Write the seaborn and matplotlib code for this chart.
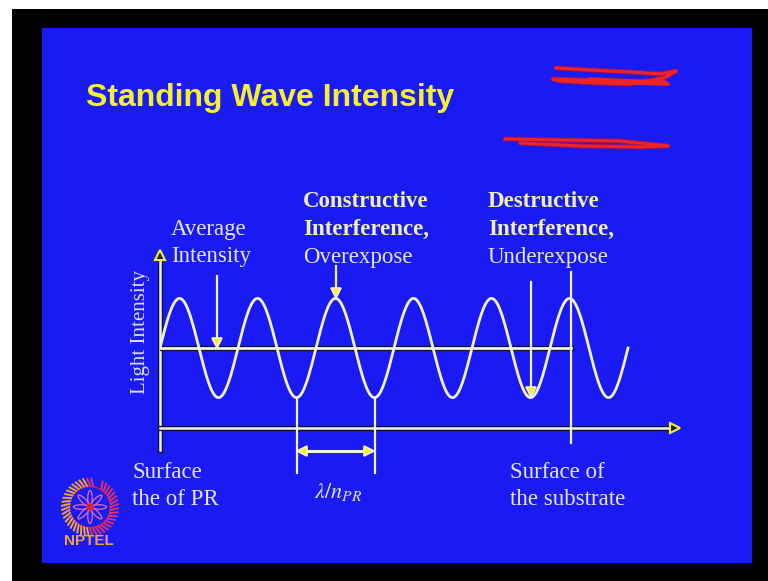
import numpy as np
import matplotlib
matplotlib.use("Agg")
import matplotlib.pyplot as plt
import matplotlib.patheffects as pe
from matplotlib.patches import Rectangle, Circle, Ellipse
import seaborn as sns

# ---------------- data ----------------
n_periods = 6.0            # wave spans six full periods (x in units of lambda/n_PR)
mean_intensity = 1.0       # average intensity level
wave_amplitude = 0.62      # peak-to-mean amplitude
peak_positions = [0.25, 1.25, 2.25, 3.25, 4.25, 5.25]
trough_positions = [0.75, 1.75, 2.75, 3.75, 4.75, 5.75]
substrate_x = 5.27         # surface of the substrate
lambda_marks = [1.75, 2.75]  # troughs bracketing one lambda/n_PR
avg_arrow_x = 0.73
over_arrow_x = 2.25
under_arrow_x = 4.75

title = "Standing Wave Intensity"
y_label = "Light Intensity"
lab_average = ["Average", "Intensity"]
lab_construct = ["Constructive", "Interference,", "Overexpose"]
lab_destruct = ["Destructive", "Interference,", "Underexpose"]
lab_surface_pr = ["Surface", "the of PR"]
lab_substrate = ["Surface of", "the substrate"]
lab_lambda = r"$\lambda/n_{PR}$"

# red pen scribbles (pixel coords of the slide)
scribble1_x = [556, 590, 630, 660, 676, 664, 630, 595, 560, 553, 585, 625, 655, 668]
scribble1_y = [68, 70, 72, 74, 71, 78, 84, 83, 81, 79, 80, 81, 82, 84]
scribble1b_x = [590, 630, 665]
scribble1b_y = [80, 82, 83]
scribble2_x = [505, 560, 620, 668, 640, 580, 520]
scribble2_y = [139, 140, 141, 146, 147, 146, 143]

# ---------------- style ----------------
BLUE = "#1a1af2"
LINE = "#f2f2dc"
YEL = "#f4f030"
WHITE_TXT = "#e6e6f2"
BOLD_TXT = "#f2f0b0"
SERIF = "Liberation Serif"
SANS = "Liberation Sans"

W, H = 768, 581
fig = plt.figure(figsize=(W / 100, H / 100), dpi=100)
fig.patch.set_facecolor("white")

# decoration axes in slide pixel coordinates
deco = fig.add_axes([0, 0, 1, 1], zorder=0)
deco.set_xlim(0, W)
deco.set_ylim(H, 0)
deco.axis("off")
deco.add_patch(Rectangle((12, 9), W - 12, H - 9, color="black", lw=0))
deco.add_patch(Rectangle((42, 28), 710, 535, color=BLUE, lw=0))

# title
deco.text(86, 106, title, fontsize=23, fontweight="bold", family=SANS,
          color=YEL, va="baseline", ha="left")

# scribbles
for sx, sy in [(scribble1_x, scribble1_y), (scribble2_x, scribble2_y)]:
    deco.plot(sx, sy, color="#9a1060", lw=3.6, solid_capstyle="round", alpha=0.9)
    deco.plot(sx, sy, color="#ee2424", lw=2.2, solid_capstyle="round")
deco.plot(scribble1b_x, scribble1b_y, color="#ee2424", lw=4, solid_capstyle="round")

# text labels
def lines(x, y0, items, weights, colors, dy=28):
    for i, (t, w, c) in enumerate(zip(items, weights, colors)):
        deco.text(x, y0 + i * dy, t, fontsize=16.5, family=SERIF, fontweight=w,
                  color=c, va="baseline", ha="left")

lines(171, 235, lab_average, ["normal"] * 2, [WHITE_TXT] * 2, dy=27)
lines(303, 207, lab_construct, ["bold", "bold", "normal"], [BOLD_TXT, BOLD_TXT, WHITE_TXT])
lines(488, 207, lab_destruct, ["bold", "bold", "normal"], [BOLD_TXT, BOLD_TXT, WHITE_TXT])
lines(132, 478, lab_surface_pr, ["normal"] * 2, [WHITE_TXT] * 2, dy=27)
lines(510, 478, lab_substrate, ["normal"] * 2, [WHITE_TXT] * 2, dy=27)
deco.text(338, 498, lab_lambda, fontsize=16, color=WHITE_TXT, ha="center", va="baseline",
          math_fontfamily="stix")
deco.text(141, 332, y_label, fontsize=15, family=SERIF, color="#dcdcec",
          rotation=90, ha="center", va="center")

# NPTEL logo
cx, cy = 90, 507
ang = np.linspace(0, 2 * np.pi, 44, endpoint=False)
for a in ang:
    deg = np.degrees(a) % 360
    if 60 < deg < 80:
        continue
    col = "#f0a040" if 95 < deg < 265 else "#e0306a"
    r0, r1 = 21, 28
    deco.plot([cx + r0 * np.cos(a), cx + r1 * np.cos(a + 0.1)],
              [cy - r0 * np.sin(a) * 1.02, cy - r1 * np.sin(a + 0.1) * 1.02],
              color=col, lw=1.4)
deco.add_patch(Circle((cx, cy), 20.5, fill=False, ec="#c02050", lw=1.0))
for k in range(8):
    a = k * np.pi / 4
    deco.add_patch(Ellipse((cx + 8.5 * np.cos(a), cy - 8.5 * np.sin(a)), 16, 4.5,
                           angle=-np.degrees(a), fill=False, ec="#e070b0", lw=0.9))
deco.add_patch(Circle((cx, cy), 3, color="#e02040"))
deco.text(89, 545, "NPTEL", fontsize=11, fontweight="bold", family=SANS,
          color="#f0a040", ha="center", va="baseline")

# ---------------- chart axes (data coordinates) ----------------
px_per_x, px_per_y = 78.0, 80.0
x0_px, y0_px = 160.0, 428.0
left_px, right_px, top_px, bot_px = 160, 680, 250, 475
ax = fig.add_axes([left_px / W, (H - bot_px) / H, (right_px - left_px) / W, (bot_px - top_px) / H],
                  zorder=1)
ax.set_xlim((left_px - x0_px) / px_per_x, (right_px - x0_px) / px_per_x)
ax.set_ylim((y0_px - bot_px) / px_per_y, (y0_px - top_px) / px_per_y)
ax.patch.set_alpha(0)
ax.axis("off")

xmax = (right_px - x0_px) / px_per_x
ytop = (y0_px - top_px) / px_per_y
dx = 5 / px_per_x
dy = 5 / px_per_y
outline = [pe.Stroke(linewidth=3.8, foreground="#101040"), pe.Normal()]

peak_y = mean_intensity + wave_amplitude
trough_y = mean_intensity - wave_amplitude

# axes lines
ax.plot([0, 0], [-0.275, ytop - 2 * dy], color=LINE, lw=1.8, path_effects=outline, clip_on=False)
ax.plot([0, xmax - 2 * dx], [0, 0], color=LINE, lw=1.8, path_effects=outline, clip_on=False)
ax.plot([0], [ytop - dy], marker="^", ms=7.5, mfc="#202020", mec=YEL, mew=1.5, clip_on=False)
ax.plot([xmax - dx], [0], marker=">", ms=7.5, mfc="#202020", mec=YEL, mew=1.5, clip_on=False)

# average line and substrate line
ax.plot([0, substrate_x], [mean_intensity, mean_intensity], color=LINE, lw=2.0,
        path_effects=outline)
ax.plot([substrate_x, substrate_x], [(y0_px - 443) / px_per_y, (y0_px - 272) / px_per_y],
        color=LINE, lw=1.6)

# standing wave
xw = np.linspace(0, n_periods, 721)
yw = mean_intensity + wave_amplitude * np.sin(2 * np.pi * xw)
sns.lineplot(x=xw, y=yw, ax=ax, color=LINE, lw=2.0, estimator=None)
ax.plot(peak_positions, [peak_y] * len(peak_positions), ls="none")
ax.plot(trough_positions, [trough_y] * len(trough_positions), ls="none")

# lambda/n markers
y_lam_bot = (y0_px - 473) / px_per_y
for xm in lambda_marks:
    ax.plot([xm, xm], [trough_y, y_lam_bot], color=LINE, lw=1.6, clip_on=False)
y_dbl = (y0_px - 451) / px_per_y
ax.plot([lambda_marks[0] + dx, lambda_marks[1] - dx], [y_dbl, y_dbl], color=LINE, lw=2.2)
ax.plot([lambda_marks[0] + dx * 1.1], [y_dbl], marker="<", ms=7.5, mfc=YEL, mec=LINE, mew=1.2)
ax.plot([lambda_marks[1] - dx * 1.1], [y_dbl], marker=">", ms=7.5, mfc=YEL, mec=LINE, mew=1.2)

# annotation arrows
def down_arrow(x, y_from, y_tip):
    ax.plot([x, x], [y_from, y_tip + 2 * dy], color=LINE, lw=1.6, clip_on=False)
    ax.plot([x], [y_tip + dy * 1.1], marker="v", ms=7.5, mfc=YEL, mec=LINE, mew=1.2,
            clip_on=False, zorder=5)

down_arrow(avg_arrow_x, (y0_px - 276) / px_per_y, mean_intensity)
down_arrow(over_arrow_x, (y0_px - 266) / px_per_y, peak_y)
down_arrow(under_arrow_x, (y0_px - 282) / px_per_y, trough_y)

fig.savefig("out.png", dpi=100, facecolor=fig.get_facecolor())
